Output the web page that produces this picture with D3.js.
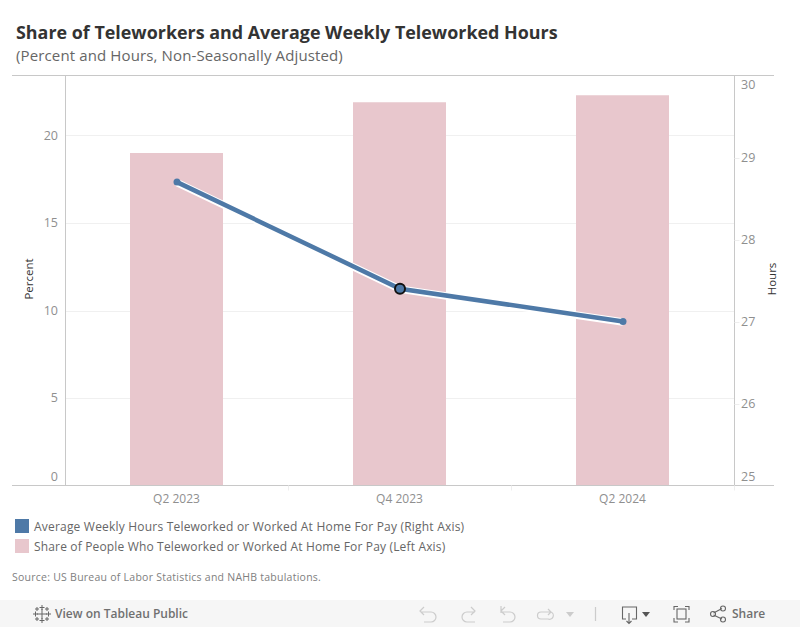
<!DOCTYPE html>
<html>
<head>
<meta charset="utf-8">
<script src="https://cdn.jsdelivr.net/npm/d3@7"></script>
<style>
    html, body { margin: 0; padding: 0; background: #fff; }
    svg { display: block; }
    text { font-family: "Open Sans", sans-serif; }
</style>
</head>
<body>
<div id="chart"></div>
<script>
// values
const quarters = ["Q2 2023", "Q4 2023", "Q2 2024"];
const sharePercent = [19.0, 21.9, 22.3];
const weeklyHours = [28.7, 27.4, 27.0];
const leftTicks = [0, 5, 10, 15, 20];
const rightTicks = [25, 26, 27, 28, 29, 30];
const highlighted = ["Q4 2023"];
const legendLabels = [
    "Average Weekly Hours Teleworked or Worked At Home For Pay (Right Axis)",
    "Share of People Who Teleworked or Worked At Home For Pay (Left Axis)"
];

const width = 800, height = 627;
const plotLeft = 65.5, plotRight = 734.5, plotTop = 75.5, plotBottom = 485.5;
const blue = "#4e79a7", pink = "#e8c7cd", axisGrey = "#c8c8c8", tickGrey = "#8f8f8f";

const svg = d3.select("#chart").append("svg")
    .attr("width", width)
    .attr("height", height);

const x = d3.scaleBand().domain(quarters).range([65, 734]).paddingInner(0.583).paddingOuter(0.2915);
const xSep = d3.scaleBand().domain(quarters).range([plotLeft, plotRight]);
const xMid = d => x(d) + x.bandwidth() / 2 + 0.5;
const yLeft = d3.scaleLinear().domain([0, 410 / 17.5]).range([plotBottom, plotTop]);
const yRight = d3.scaleLinear().domain([25, 30]).range([plotBottom, plotTop]);

// title
svg.append("text").attr("x", 16).attr("y", 39)
    .attr("font-size", 17.9).attr("font-weight", 700).attr("fill", "#333")
    .text("Share of Teleworkers and Average Weekly Teleworked Hours");
svg.append("text").attr("x", 16).attr("y", 61)
    .attr("font-size", 15).attr("letter-spacing", 0.13).attr("fill", "#666")
    .text("(Percent and Hours, Non-Seasonally Adjusted)");

// gridlines
svg.append("g").selectAll("line")
    .data(leftTicks.filter(d => d > 0))
    .enter().append("line")
    .attr("x1", plotLeft).attr("x2", plotRight)
    .attr("y1", d => Math.round(yLeft(d)) + 0.5).attr("y2", d => Math.round(yLeft(d)) + 0.5)
    .attr("stroke", "#f0f0f0");

// bars
svg.append("g").selectAll("rect")
    .data(quarters)
    .enter().append("rect")
    .attr("x", d => x(d))
    .attr("width", x.bandwidth())
    .attr("y", (d, i) => yLeft(sharePercent[i]))
    .attr("height", (d, i) => plotBottom - yLeft(sharePercent[i]))
    .attr("fill", pink);

// frame
svg.append("line").attr("x1", 12).attr("x2", 774).attr("y1", plotTop).attr("y2", plotTop).attr("stroke", axisGrey);
svg.append("line").attr("x1", 12).attr("x2", 774).attr("y1", plotBottom).attr("y2", plotBottom).attr("stroke", axisGrey);
svg.append("line").attr("x1", plotLeft).attr("x2", plotLeft).attr("y1", plotTop).attr("y2", plotBottom).attr("stroke", axisGrey);
svg.append("line").attr("x1", plotRight).attr("x2", plotRight).attr("y1", plotTop).attr("y2", plotBottom).attr("stroke", axisGrey);

// left axis ticks, the end label is pushed inside the plot
svg.append("g").selectAll("text")
    .data(leftTicks)
    .enter().append("text")
    .attr("x", 58)
    .attr("y", d => d === 0 ? 477 : yLeft(d))
    .attr("dy", "0.35em")
    .attr("text-anchor", "end")
    .attr("font-size", 12.5)
    .attr("fill", tickGrey)
    .text(d => d);

// right axis ticks
svg.append("g").selectAll("line")
    .data(rightTicks.filter(d => d > 25 && d < 30))
    .enter().append("line")
    .attr("x1", plotRight).attr("x2", plotRight + 5)
    .attr("y1", d => Math.round(yRight(d)) + 0.5).attr("y2", d => Math.round(yRight(d)) + 0.5)
    .attr("stroke", "#eee");
svg.append("g").selectAll("text")
    .data(rightTicks)
    .enter().append("text")
    .attr("x", 741)
    .attr("y", d => d === 30 ? 85 : d === 25 ? 477 : yRight(d))
    .attr("dy", "0.35em")
    .attr("font-size", 12.5)
    .attr("fill", tickGrey)
    .text(d => d);

// x axis
svg.append("g").selectAll("line")
    .data(quarters.slice(1).concat("end"))
    .enter().append("line")
    .attr("x1", d => d === "end" ? plotRight : xSep(d))
    .attr("x2", d => d === "end" ? plotRight : xSep(d))
    .attr("y1", plotBottom).attr("y2", plotBottom + 5)
    .attr("stroke", "#eee");
svg.append("g").selectAll("text")
    .data(quarters)
    .enter().append("text")
    .attr("x", d => x(d) + x.bandwidth() / 2)
    .attr("y", 503)
    .attr("text-anchor", "middle")
    .attr("font-size", 12)
    .attr("fill", tickGrey)
    .text(d => d);

// axis titles
svg.append("text")
    .attr("transform", "translate(33,279) rotate(-90)")
    .attr("text-anchor", "middle").attr("font-size", 11.5).attr("fill", "#333")
    .text("Percent");
svg.append("text")
    .attr("transform", "translate(776,279) rotate(-90)")
    .attr("text-anchor", "middle").attr("font-size", 11.5).attr("fill", "#333")
    .text("Hours");

// line with white halo
const lineGen = d3.line()
    .x(d => xMid(d.q))
    .y(d => yRight(d.h));
const linePts = quarters.map((q, i) => ({ q: q, h: weeklyHours[i] }));

svg.append("path").datum(linePts)
    .attr("d", lineGen)
    .attr("transform", "translate(0,0.5)")
    .attr("fill", "none").attr("stroke", "#fff").attr("stroke-width", 7.5);
svg.append("path").datum(linePts)
    .attr("d", lineGen)
    .attr("fill", "none").attr("stroke", blue).attr("stroke-width", 4.5);

svg.append("g").selectAll("circle")
    .data(linePts)
    .enter().append("circle")
    .attr("cx", d => xMid(d.q))
    .attr("cy", d => yRight(d.h))
    .attr("r", d => highlighted.includes(d.q) ? 5 : 3.5)
    .attr("fill", blue)
    .attr("stroke", d => highlighted.includes(d.q) ? "#111" : "none")
    .attr("stroke-width", 2);

// legend
const legend = svg.append("g").selectAll("g")
    .data(legendLabels)
    .enter().append("g")
    .attr("transform", (d, i) => `translate(15,${519 + i * 20})`);
legend.append("rect")
    .attr("width", 14).attr("height", 14)
    .attr("fill", (d, i) => i === 0 ? blue : pink);
legend.append("text")
    .attr("x", 19).attr("y", 12)
    .attr("font-size", 12).attr("letter-spacing", (d, i) => i === 0 ? 0.2 : 0.16).attr("fill", "#666")
    .text(d => d);

// source
svg.append("text").attr("x", 12).attr("y", 581)
    .attr("font-size", 10.5).attr("letter-spacing", 0.25).attr("fill", "#808080")
    .text("Source: US Bureau of Labor Statistics and NAHB tabulations.");

// tableau toolbar
const bar = svg.append("g");
bar.append("rect").attr("x", 0).attr("y", 600).attr("width", width).attr("height", 27).attr("fill", "#f6f6f6");

const logo = bar.append("g").attr("fill", "none").attr("stroke", "#666").attr("stroke-width", 1);
[[42, 614, 5], [35.5, 614, 2.5], [48.5, 614, 2.5], [42, 607.5, 2.5], [42, 620.5, 2.5], [37, 609, 2], [47, 609, 2], [37, 619, 2], [47, 619, 2]]
    .forEach(p => logo.append("path").attr("d", `M${p[0] - p[2]},${p[1]}H${p[0] + p[2]}M${p[0]},${p[1] - p[2]}V${p[1] + p[2]}`));

bar.append("text").attr("x", 55).attr("y", 618)
    .attr("font-size", 12).attr("font-weight", 600).attr("fill", "#707070")
    .text("View on Tableau Public");
bar.append("text").attr("x", 732).attr("y", 618)
    .attr("font-size", 12).attr("font-weight", 600).attr("fill", "#707070")
    .text("Share");

const faint = bar.append("g").attr("fill", "none").attr("stroke", "#ccc").attr("stroke-width", 1.2);
faint.append("path").attr("d", "M421,612H431A5,5 0 0 1 431,622H424M424,607L420,611L424,615");
faint.append("path").attr("d", "M475,612H467A5,5 0 0 0 467,622H475M471,607L475,611L471,615");
faint.append("path").attr("d", "M501,612H510A5,5 0 0 1 510,622H503M505,607L501,611L505,615M501,606V613");
faint.append("path").attr("d", "M551,612H541A3.5,3.5 0 0 0 541,619H548A3.5,3.5 0 0 0 551,612M548,609L551,612L548,615");
faint.append("path").attr("d", "M595.5,607V621");
bar.append("path").attr("d", "M566,612H574L570,617Z").attr("fill", "#ccc");

const dark = bar.append("g").attr("fill", "none").attr("stroke", "#666").attr("stroke-width", 1.1);
dark.append("path").attr("d", "M626,619H622.5V607H636.5V619H632M629,613V623M626.5,621L629,623.5L631.5,621");
dark.append("path").attr("d", "M674,610V606.5H678M685,606.5H689V610M689,618V622H685M678,622H674V618");
dark.append("rect").attr("x", 677).attr("y", 609).attr("width", 9).attr("height", 10);
dark.append("path").attr("d", "M713.5,613L722,608.5M713.5,615L722,619");
dark.append("circle").attr("cx", 713).attr("cy", 614).attr("r", 2.5);
dark.append("circle").attr("cx", 723).attr("cy", 608.5).attr("r", 2.5);
dark.append("circle").attr("cx", 723).attr("cy", 619.5).attr("r", 2.5);
bar.append("path").attr("d", "M642,612H650L646,617Z").attr("fill", "#555");
</script>
</body>
</html>
